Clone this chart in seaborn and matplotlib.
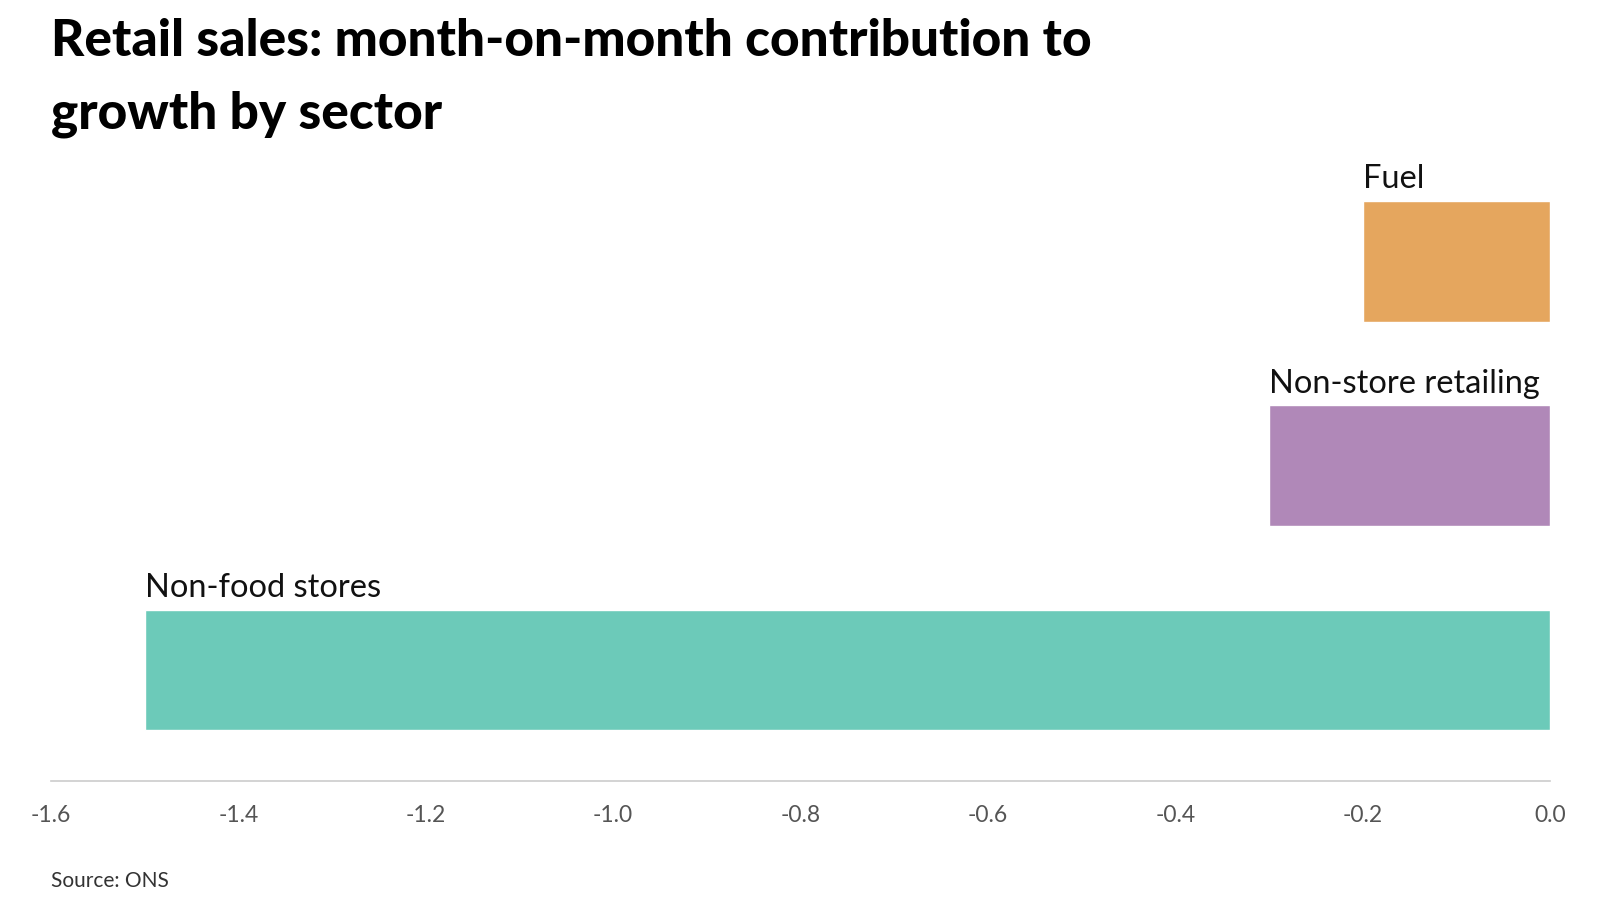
import matplotlib
matplotlib.use("Agg")
import matplotlib.pyplot as plt
import seaborn as sns
import pandas as pd

# ===================== Retail sales contribution by sector =====================
sectors = ["Fuel", "Non-store retailing", "Non-food stores"]
contribution = [-0.2, -0.3, -1.5]
bar_colors = ["#E5A65E", "#B088B8", "#6CCAB9"]
x_ticks = [-1.6, -1.4, -1.2, -1.0, -0.8, -0.6, -0.4, -0.2, 0.0]
title_lines = ["Retail sales: month-on-month contribution to", "growth by sector"]

df = pd.DataFrame({"Sector": sectors, "Contribution": contribution})

sns.set_style("white")
plt.rcParams['font.family'] = ['Lato', 'DejaVu Sans']

fig = plt.figure(figsize=(16, 9), dpi=100)
ax = fig.add_axes([0.0319, 0.1322, 0.9368, 0.6911])

sns.barplot(
    data=df,
    y="Sector",
    x="Contribution",
    hue="Sector",
    palette=dict(zip(sectors, bar_colors)),
    orient="h",
    width=0.59,
    saturation=1,
    legend=False,
    ax=ax,
)

# labels sitting on top of each bar, left aligned with bar start
for i, (name, val) in enumerate(zip(sectors, contribution)):
    ax.annotate(name, xy=(val, i - 0.295), xytext=(0, 9), textcoords="offset points",
                ha="left", va="baseline", fontsize=23.5, color="#111111")

ax.set_xlim(-1.6, 0.0)
ax.set_ylim(2.543, -0.5)
ax.set_xticks(x_ticks)
ax.set_xticklabels([f"{t:.1f}" for t in x_ticks], fontsize=16.5, color="#555555")
ax.set_yticks([])
ax.set_xlabel("")
ax.set_ylabel("")
ax.tick_params(axis="x", length=0, pad=17)

for side in ["top", "right", "left"]:
    ax.spines[side].set_visible(False)
ax.spines["bottom"].set_color("#cccccc")
ax.spines["bottom"].set_linewidth(1.2)

for y, line in zip([0.9378, 0.857], title_lines):
    fig.text(0.0319, y, line, fontsize=37, fontweight="black", color="#000000",
             va="baseline", ha="left")
fig.text(0.0319, 0.0145, "Source: ONS", fontsize=15, color="#333333", ha="left", va="baseline")

fig.savefig("out.png", dpi=100)
